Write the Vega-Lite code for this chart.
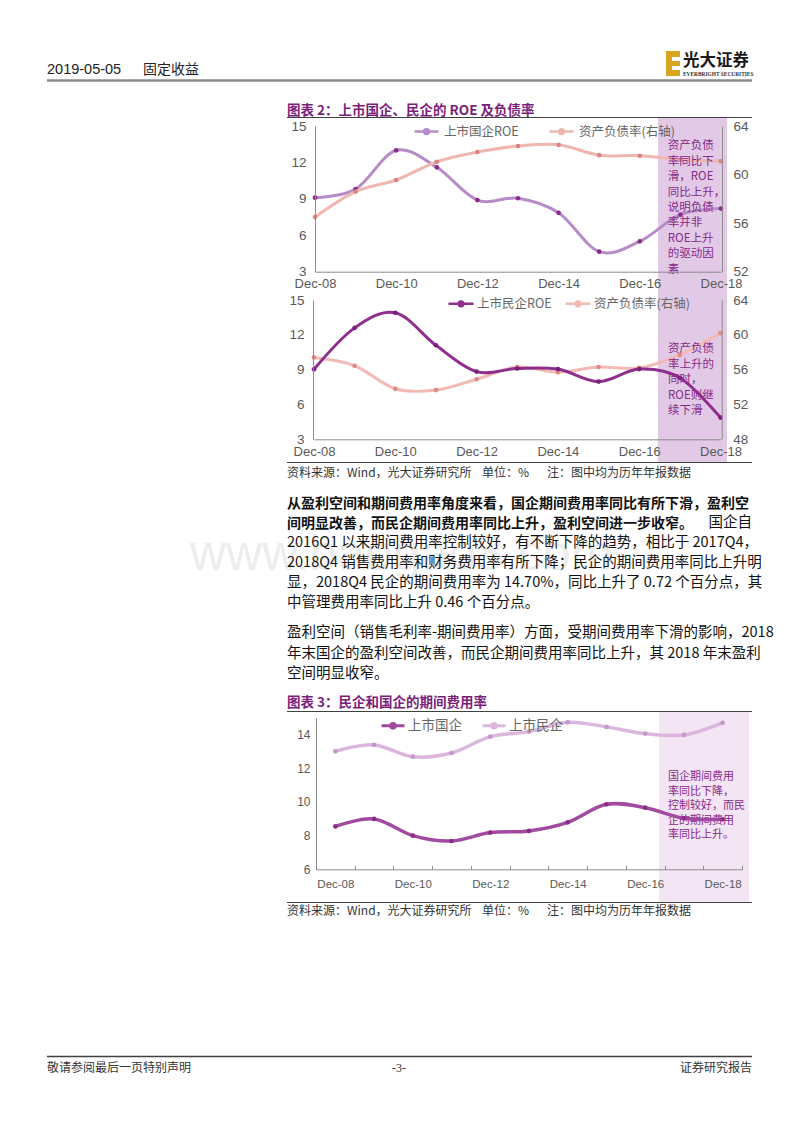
{
"$schema": "https://vega.github.io/schema/vega-lite/v6.json",
"padding": 0,
"background": "#ffffff",
"spacing": 0,
"bounds": "flush",
"resolve": {"scale": {"color": "independent", "stroke": "independent", "fill": "independent"}, "legend": {"color": "independent", "stroke": "independent", "fill": "independent"}},
"config": {
  "view": {"stroke": null},
  "font": "Noto Sans CJK SC",
  "axis": {"grid": false, "domainColor": "#8c8c8c", "labelColor": "#595959", "labelFont": "Liberation Sans", "ticks": false},
  "legend": {"padding": 0}
},
"datasets": {
  "c2a": [
    {"year": 2008, "series": "上市国企ROE", "value": 9.1},
    {"year": 2009, "series": "上市国企ROE", "value": 9.8},
    {"year": 2010, "series": "上市国企ROE", "value": 13.0},
    {"year": 2011, "series": "上市国企ROE", "value": 11.6},
    {"year": 2012, "series": "上市国企ROE", "value": 8.9},
    {"year": 2013, "series": "上市国企ROE", "value": 9.05},
    {"year": 2014, "series": "上市国企ROE", "value": 7.85},
    {"year": 2015, "series": "上市国企ROE", "value": 4.65},
    {"year": 2016, "series": "上市国企ROE", "value": 5.5},
    {"year": 2017, "series": "上市国企ROE", "value": 7.7},
    {"year": 2018, "series": "上市国企ROE", "value": 8.2},
    {"year": 2008, "series": "资产负债率(右轴)", "value": 56.5},
    {"year": 2009, "series": "资产负债率(右轴)", "value": 58.6},
    {"year": 2010, "series": "资产负债率(右轴)", "value": 59.55},
    {"year": 2011, "series": "资产负债率(右轴)", "value": 61.05},
    {"year": 2012, "series": "资产负债率(右轴)", "value": 61.85},
    {"year": 2013, "series": "资产负债率(右轴)", "value": 62.35},
    {"year": 2014, "series": "资产负债率(右轴)", "value": 62.45},
    {"year": 2015, "series": "资产负债率(右轴)", "value": 61.6},
    {"year": 2016, "series": "资产负债率(右轴)", "value": 61.55},
    {"year": 2017, "series": "资产负债率(右轴)", "value": 61.25},
    {"year": 2018, "series": "资产负债率(右轴)", "value": 61.1}
  ],
  "c2b": [
    {"year": 2008, "series": "上市民企ROE", "value": 9.03},
    {"year": 2009, "series": "上市民企ROE", "value": 12.6},
    {"year": 2010, "series": "上市民企ROE", "value": 13.9},
    {"year": 2011, "series": "上市民企ROE", "value": 11.1},
    {"year": 2012, "series": "上市民企ROE", "value": 8.83},
    {"year": 2013, "series": "上市民企ROE", "value": 9.1},
    {"year": 2014, "series": "上市民企ROE", "value": 9.05},
    {"year": 2015, "series": "上市民企ROE", "value": 7.97},
    {"year": 2016, "series": "上市民企ROE", "value": 9.05},
    {"year": 2017, "series": "上市民企ROE", "value": 8.3},
    {"year": 2018, "series": "上市民企ROE", "value": 4.87},
    {"year": 2008, "series": "资产负债率(右轴)", "value": 57.4},
    {"year": 2009, "series": "资产负债率(右轴)", "value": 56.45},
    {"year": 2010, "series": "资产负债率(右轴)", "value": 53.8},
    {"year": 2011, "series": "资产负债率(右轴)", "value": 53.65},
    {"year": 2012, "series": "资产负债率(右轴)", "value": 54.9},
    {"year": 2013, "series": "资产负债率(右轴)", "value": 56.3},
    {"year": 2014, "series": "资产负债率(右轴)", "value": 55.7},
    {"year": 2015, "series": "资产负债率(右轴)", "value": 56.3},
    {"year": 2016, "series": "资产负债率(右轴)", "value": 56.2},
    {"year": 2017, "series": "资产负债率(右轴)", "value": 57.7},
    {"year": 2018, "series": "资产负债率(右轴)", "value": 60.2}
  ],
  "c3": [
    {"year": 2008, "series": "上市国企", "value": 8.55},
    {"year": 2009, "series": "上市国企", "value": 8.99},
    {"year": 2010, "series": "上市国企", "value": 8.0},
    {"year": 2011, "series": "上市国企", "value": 7.68},
    {"year": 2012, "series": "上市国企", "value": 8.18},
    {"year": 2013, "series": "上市国企", "value": 8.28},
    {"year": 2014, "series": "上市国企", "value": 8.79},
    {"year": 2015, "series": "上市国企", "value": 9.86},
    {"year": 2016, "series": "上市国企", "value": 9.66},
    {"year": 2017, "series": "上市国企", "value": 9.03},
    {"year": 2018, "series": "上市国企", "value": 8.97},
    {"year": 2008, "series": "上市民企", "value": 13.01},
    {"year": 2009, "series": "上市民企", "value": 13.39},
    {"year": 2010, "series": "上市民企", "value": 12.69},
    {"year": 2011, "series": "上市民企", "value": 12.91},
    {"year": 2012, "series": "上市民企", "value": 13.88},
    {"year": 2013, "series": "上市民企", "value": 14.18},
    {"year": 2014, "series": "上市民企", "value": 14.73},
    {"year": 2015, "series": "上市民企", "value": 14.46},
    {"year": 2016, "series": "上市民企", "value": 14.06},
    {"year": 2017, "series": "上市民企", "value": 13.98},
    {"year": 2018, "series": "上市民企", "value": 14.7}
  ]
},
"vconcat": [
  {
    "width": 800, "height": 118,
    "data": {"values": [{}]},
    "layer": [
      {"mark": {"type": "text", "text": "2019-05-05", "font": "Liberation Sans", "fontSize": 14.5, "align": "left", "baseline": "middle", "color": "#222222"}, "encoding": {"x": {"value": 47}, "y": {"value": 70}}},
      {"mark": {"type": "text", "text": "固定收益", "fontSize": 14, "align": "left", "baseline": "middle", "color": "#222222"}, "encoding": {"x": {"value": 143}, "y": {"value": 70}}},
      {"mark": {"type": "rule", "stroke": "#8c8c8c", "strokeWidth": 2.5}, "encoding": {"x": {"value": 47}, "x2": {"value": 752}, "y": {"value": 80.5}}},
      {"mark": {"type": "rect", "fill": "#d9a520"}, "encoding": {"x": {"value": 666}, "x2": {"value": 680}, "y": {"value": 51}, "y2": {"value": 76}}},
      {"mark": {"type": "rect", "fill": "#ffffff"}, "encoding": {"x": {"value": 672}, "x2": {"value": 681}, "y": {"value": 57}, "y2": {"value": 61}}},
      {"mark": {"type": "rect", "fill": "#ffffff"}, "encoding": {"x": {"value": 672}, "x2": {"value": 681}, "y": {"value": 66}, "y2": {"value": 70}}},
      {"mark": {"type": "text", "text": "光大证券", "fontSize": 16.5, "fontWeight": "bold", "align": "left", "baseline": "middle", "color": "#1a1a1a"}, "encoding": {"x": {"value": 683}, "y": {"value": 61}}},
      {"mark": {"type": "text", "text": "EVERBRIGHT SECURITIES", "font": "Liberation Serif", "fontSize": 5.4, "fontWeight": "bold", "align": "left", "baseline": "middle", "color": "#333333"}, "encoding": {"x": {"value": 683}, "y": {"value": 73.5}}},
      {"mark": {"type": "text", "text": "图表 2：上市国企、民企的 ROE 及负债率", "fontSize": 13.5, "fontWeight": "bold", "align": "left", "baseline": "middle", "color": "#7b1e7b"}, "encoding": {"x": {"value": 287}, "y": {"value": 111}}},
      {"mark": {"type": "rule", "stroke": "#404040", "strokeWidth": 1}, "encoding": {"x": {"value": 287}, "x2": {"value": 752}, "y": {"value": 117.5}}}
    ]
  },
  {
    "width": 800, "height": 174,
    "layer": [
      {"data": {"values": [{"from": 2016.45, "to": 2018.15}]},
       "mark": {"type": "rect", "color": "#e2c9e6"},
       "encoding": {
         "x": {"field": "from", "type": "quantitative", "scale": {"domain": [2008, 2018], "range": [315, 721], "nice": false, "zero": false},
               "axis": {"orient": "bottom", "offset": -20.3, "values": [2008, 2010, 2012, 2014, 2016, 2018], "format": "d", "labelExpr": "'Dec-' + slice(datum.label, 2)", "title": null, "labelFlush": false, "labelOverlap": false, "labelBound": false, "labelPadding": 6, "labelFontSize": 13, "zindex": 1}},
         "x2": {"field": "to"}}},
      {"data": {"name": "c2a"}, "transform": [{"filter": "datum.series == '上市国企ROE'"}],
       "encoding": {
         "x": {"field": "year", "type": "quantitative"},
         "y": {"field": "value", "type": "quantitative", "scale": {"domain": [3, 15], "range": [153.7, 8], "nice": false, "zero": false},
               "axis": {"orient": "left", "offset": -315, "values": [3, 6, 9, 12, 15], "title": null, "labelPadding": 9, "labelFontSize": 13.5, "zindex": 1}}},
       "layer": [
         {"mark": {"type": "line", "interpolate": "cardinal", "strokeWidth": 3},
          "encoding": {"stroke": {"field": "series", "type": "nominal",
            "scale": {"domain": ["上市国企ROE", "资产负债率(右轴)"], "range": ["#b78bc8", "#f0b6b0"]},
            "legend": {"orient": "none", "legendX": 413, "legendY": 0, "direction": "horizontal", "title": null,
              "symbolType": "M-1,0L1,0M-0.2,0A0.2,0.2,0,1,1,0.2,0A0.2,0.2,0,1,1,-0.2,0Z", "symbolSize": 576, "symbolStrokeWidth": 2.5,
              "labelFont": "Noto Sans CJK SC", "labelFontSize": 12.5, "labelColor": "#666666",
              "labelOffset": 4, "columnPadding": 25, "labelLimit": 300}}}},
         {"mark": {"type": "circle", "size": 22, "opacity": 1},
          "encoding": {"fill": {"field": "series", "type": "nominal",
            "scale": {"domain": ["上市国企ROE", "资产负债率(右轴)"], "range": ["#8a2a8a", "#d98585"]},
            "legend": {"orient": "none", "legendX": 413, "legendY": 0, "direction": "horizontal", "title": null,
              "symbolType": "M-1,0L1,0M-0.2,0A0.2,0.2,0,1,1,0.2,0A0.2,0.2,0,1,1,-0.2,0Z", "symbolSize": 576, "symbolStrokeWidth": 2.5,
              "labelFont": "Noto Sans CJK SC", "labelFontSize": 12.5, "labelColor": "#666666",
              "labelOffset": 4, "columnPadding": 25, "labelLimit": 300}}}}
       ]},
      {"data": {"name": "c2a"}, "transform": [{"filter": "datum.series == '资产负债率(右轴)'"}],
       "encoding": {
         "x": {"field": "year", "type": "quantitative"},
         "y": {"field": "value", "type": "quantitative", "scale": {"domain": [52, 64], "range": [153.7, 8], "nice": false, "zero": false},
               "axis": {"orient": "right", "offset": -78, "values": [52, 56, 60, 64], "title": null, "labelPadding": 11, "labelFontSize": 13.5, "zindex": 1}}},
       "layer": [
         {"mark": {"type": "line", "interpolate": "cardinal", "strokeWidth": 3}, "encoding": {"stroke": {"field": "series", "type": "nominal"}}},
         {"mark": {"type": "circle", "size": 22, "opacity": 1}, "encoding": {"fill": {"field": "series", "type": "nominal"}}}
       ]},
      {"data": {"values": [{}]},
       "mark": {"type": "text", "text": "资产负债\n率同比下\n滑，ROE\n同比上升，\n说明负债\n率并非\nROE上升\n的驱动因\n素", "lineBreak": "\n", "align": "left", "baseline": "top", "fontSize": 11.5, "lineHeight": 15.4, "color": "#86298a"},
       "encoding": {"x": {"datum": 2016.69}, "y": {"datum": 13.82, "scale": {"domain": [3, 15], "range": [153.7, 8], "nice": false, "zero": false}, "axis": null}}}
    ],
    "resolve": {"scale": {"y": "independent"}, "axis": {"y": "independent"}}
  },
  {
    "width": 800, "height": 170,
    "layer": [
      {"data": {"values": [{"from": 2016.46, "to": 2018.16}]},
       "mark": {"type": "rect", "color": "#e2c9e6"},
       "encoding": {
         "x": {"field": "from", "type": "quantitative", "scale": {"domain": [2008, 2018], "range": [314, 720.5], "nice": false, "zero": false},
               "axis": {"orient": "bottom", "offset": -22.7, "values": [2008, 2010, 2012, 2014, 2016, 2018], "format": "d", "labelExpr": "'Dec-' + slice(datum.label, 2)", "title": null, "labelFlush": false, "labelOverlap": false, "labelBound": false, "labelPadding": 6, "labelFontSize": 13, "zindex": 1}},
         "x2": {"field": "to"}}},
      {"data": {"name": "c2b"}, "transform": [{"filter": "datum.series == '资产负债率(右轴)'"}],
       "encoding": {
         "x": {"field": "year", "type": "quantitative"},
         "y": {"field": "value", "type": "quantitative", "scale": {"domain": [48, 64], "range": [147.3, 8], "nice": false, "zero": false},
               "axis": {"orient": "right", "offset": -78.3, "values": [48, 52, 56, 60, 64], "title": null, "labelPadding": 11, "labelFontSize": 13.5, "zindex": 1}}},
       "layer": [
         {"mark": {"type": "line", "interpolate": "cardinal", "strokeWidth": 3}, "encoding": {"stroke": {"field": "series", "type": "nominal"}}},
         {"mark": {"type": "circle", "size": 22, "opacity": 1}, "encoding": {"fill": {"field": "series", "type": "nominal"}}}
       ]},
      {"data": {"name": "c2b"}, "transform": [{"filter": "datum.series == '上市民企ROE'"}],
       "encoding": {
         "x": {"field": "year", "type": "quantitative"},
         "y": {"field": "value", "type": "quantitative", "scale": {"domain": [3, 15], "range": [147.3, 8], "nice": false, "zero": false},
               "axis": {"orient": "left", "offset": -313, "values": [3, 6, 9, 12, 15], "title": null, "labelPadding": 9, "labelFontSize": 13.5, "zindex": 1}}},
       "layer": [
         {"mark": {"type": "line", "interpolate": "cardinal", "strokeWidth": 3},
          "encoding": {"stroke": {"field": "series", "type": "nominal",
            "scale": {"domain": ["上市民企ROE", "资产负债率(右轴)"], "range": ["#8e2f8e", "#f2bab4"]},
            "legend": {"orient": "none", "legendX": 447, "legendY": -2.5, "direction": "horizontal", "title": null,
              "symbolType": "M-1,0L1,0M-0.19,0A0.19,0.19,0,1,1,0.19,0A0.19,0.19,0,1,1,-0.19,0Z", "symbolSize": 625, "symbolStrokeWidth": 2.5,
              "labelFont": "Noto Sans CJK SC", "labelFontSize": 12.5, "labelColor": "#666666",
              "labelOffset": 2, "columnPadding": 8, "labelLimit": 300}}}},
         {"mark": {"type": "circle", "size": 22, "opacity": 1},
          "encoding": {"fill": {"field": "series", "type": "nominal",
            "scale": {"domain": ["上市民企ROE", "资产负债率(右轴)"], "range": ["#7a1f7a", "#e08a8a"]},
            "legend": {"orient": "none", "legendX": 447, "legendY": -2.5, "direction": "horizontal", "title": null,
              "symbolType": "M-1,0L1,0M-0.19,0A0.19,0.19,0,1,1,0.19,0A0.19,0.19,0,1,1,-0.19,0Z", "symbolSize": 625, "symbolStrokeWidth": 2.5,
              "labelFont": "Noto Sans CJK SC", "labelFontSize": 12.5, "labelColor": "#666666",
              "labelOffset": 2, "columnPadding": 8, "labelLimit": 300}}}}
       ]},
      {"data": {"values": [{}]},
       "mark": {"type": "text", "text": "资产负债\n率上升的\n同时，\nROE则继\n续下滑", "lineBreak": "\n", "align": "left", "baseline": "top", "fontSize": 11.5, "lineHeight": 15.5, "color": "#86298a"},
       "encoding": {"x": {"datum": 2016.71}, "y": {"datum": 11.27, "scale": {"domain": [3, 15], "range": [147.3, 8], "nice": false, "zero": false}, "axis": null}}}
    ],
    "resolve": {"scale": {"y": "independent"}, "axis": {"y": "independent"}}
  },
  {
    "width": 800, "height": 250,
    "data": {"values": [{}]},
    "layer": [
      {"mark": {"type": "text", "text": "www.baogao8.com", "font": "Liberation Sans", "fontSize": 50, "align": "left", "baseline": "middle", "color": "#ededed"}, "encoding": {"x": {"value": 190}, "y": {"value": 93}}},
      {"mark": {"type": "rule", "stroke": "#404040", "strokeWidth": 1}, "encoding": {"x": {"value": 287}, "x2": {"value": 752}, "y": {"value": 0.5}}},
      {"mark": {"type": "text", "text": "资料来源：Wind，光大证券研究所", "fontSize": 12, "align": "left", "baseline": "middle", "color": "#333333"}, "encoding": {"x": {"value": 287}, "y": {"value": 11}}},
      {"mark": {"type": "text", "text": "单位：%", "fontSize": 12, "align": "left", "baseline": "middle", "color": "#333333"}, "encoding": {"x": {"value": 482}, "y": {"value": 11}}},
      {"mark": {"type": "text", "text": "注：图中均为历年年报数据", "fontSize": 12, "align": "left", "baseline": "middle", "color": "#333333"}, "encoding": {"x": {"value": 547}, "y": {"value": 11}}},
      {"mark": {"type": "text", "text": "从盈利空间和期间费用率角度来看，国企期间费用率同比有所下滑，盈利空\n间明显改善，而民企期间费用率同比上升，盈利空间进一步收窄。", "lineBreak": "\n", "fontSize": 14, "fontWeight": "bold", "lineHeight": 19.5, "align": "left", "baseline": "top", "color": "#111111"}, "encoding": {"x": {"value": 287}, "y": {"value": 35}}},
      {"mark": {"type": "text", "text": "国企自", "fontSize": 14.5, "align": "right", "baseline": "top", "color": "#111111"}, "encoding": {"x": {"value": 752}, "y": {"value": 54.3}}},
      {"mark": {"type": "text", "text": "2016Q1 以来期间费用率控制较好，有不断下降的趋势，相比于 2017Q4，\n2018Q4 销售费用率和财务费用率有所下降；民企的期间费用率同比上升明\n显，2018Q4 民企的期间费用率为 14.70%，同比上升了 0.72 个百分点，其\n中管理费用率同比上升 0.46 个百分点。", "lineBreak": "\n", "fontSize": 14.5, "lineHeight": 20, "align": "left", "baseline": "top", "color": "#111111"}, "encoding": {"x": {"value": 287}, "y": {"value": 73.8}}},
      {"mark": {"type": "text", "text": "盈利空间（销售毛利率-期间费用率）方面，受期间费用率下滑的影响，2018\n年末国企的盈利空间改善，而民企期间费用率同比上升，其 2018 年末盈利\n空间明显收窄。", "lineBreak": "\n", "fontSize": 14.5, "lineHeight": 20.5, "align": "left", "baseline": "top", "color": "#111111"}, "encoding": {"x": {"value": 287}, "y": {"value": 164}}},
      {"mark": {"type": "text", "text": "图表 3：民企和国企的期间费用率", "fontSize": 13.5, "fontWeight": "bold", "align": "left", "baseline": "middle", "color": "#7b1e7b"}, "encoding": {"x": {"value": 287}, "y": {"value": 240.7}}},
      {"mark": {"type": "rule", "stroke": "#404040", "strokeWidth": 1}, "encoding": {"x": {"value": 287}, "x2": {"value": 752}, "y": {"value": 249.5}}}
    ]
  },
  {
    "width": 800, "height": 190,
    "layer": [
      {"data": {"values": [{"from": 2016.36, "to": 2018.68}]},
       "layer": [
         {"mark": {"type": "rect", "color": "#f3e5f4"},
          "encoding": {"x": {"field": "from", "type": "quantitative", "scale": {"domain": [2007.5, 2018.5], "range": [316, 742], "nice": false, "zero": false}, "axis": null}, "x2": {"field": "to"}}},
         {"mark": {"type": "text", "text": "国企期间费用\n率同比下降，\n控制较好，而民\n企的期间费用\n率同比上升。", "lineBreak": "\n", "align": "left", "baseline": "top", "fontSize": 11, "lineHeight": 14.5, "color": "#86298a"},
          "encoding": {"x": {"datum": 2016.59, "axis": null}, "y": {"datum": 11.81, "scale": {"domain": [6, 15], "range": [157.3, 5.8], "nice": false, "zero": false}, "axis": null}}}
       ]},
      {"data": {"name": "c3"},
       "encoding": {
         "x": {"field": "year", "type": "ordinal", "scale": {"type": "band", "range": [316, 742], "paddingInner": 0, "paddingOuter": 0},
               "axis": {"orient": "bottom", "offset": -32.7, "title": null, "labelAngle": 0, "labelExpr": "datum.value % 2 == 0 ? 'Dec-' + slice(toString(datum.value), 2) : ''", "tickBand": "extent", "ticks": true, "tickSize": -4, "tickColor": "#8c8c8c", "labelPadding": 13, "labelFontSize": 11.5, "labelOverlap": false, "zindex": 1}},
         "y": {"field": "value", "type": "quantitative", "scale": {"domain": [6, 15], "range": [157.3, 5.8], "nice": false, "zero": false},
               "axis": {"orient": "left", "offset": -316, "values": [6, 8, 10, 12, 14], "title": null, "labelPadding": 6, "labelFontSize": 12, "zindex": 1}}},
       "layer": [
         {"transform": [{"filter": "datum.series == '上市民企'"}], "mark": {"type": "line", "interpolate": "cardinal", "strokeWidth": 3.5},
          "encoding": {"stroke": {"field": "series", "type": "nominal",
            "scale": {"domain": ["上市国企", "上市民企"], "range": ["#a14a9f", "#dbb7de"]},
            "legend": {"orient": "none", "legendX": 380, "legendY": 0.5, "direction": "horizontal", "title": null,
              "symbolType": "M-1,0L1,0M-0.2,0A0.2,0.2,0,1,1,0.2,0A0.2,0.2,0,1,1,-0.2,0Z", "symbolSize": 529, "symbolStrokeWidth": 3,
              "labelFont": "Noto Sans CJK SC", "labelFontSize": 13.5, "labelColor": "#666666",
              "labelOffset": 2, "columnPadding": 14, "labelLimit": 300}}}},
         {"transform": [{"filter": "datum.series == '上市民企'"}], "mark": {"type": "circle", "size": 22, "opacity": 1},
          "encoding": {"fill": {"field": "series", "type": "nominal",
            "scale": {"domain": ["上市国企", "上市民企"], "range": ["#8c2c8a", "#c597ca"]},
            "legend": {"orient": "none", "legendX": 380, "legendY": 0.5, "direction": "horizontal", "title": null,
              "symbolType": "M-1,0L1,0M-0.2,0A0.2,0.2,0,1,1,0.2,0A0.2,0.2,0,1,1,-0.2,0Z", "symbolSize": 529, "symbolStrokeWidth": 3,
              "labelFont": "Noto Sans CJK SC", "labelFontSize": 13.5, "labelColor": "#666666",
              "labelOffset": 2, "columnPadding": 14, "labelLimit": 300}}}},
         {"transform": [{"filter": "datum.series == '上市国企'"}], "mark": {"type": "line", "interpolate": "cardinal", "strokeWidth": 3.5},
          "encoding": {"stroke": {"field": "series", "type": "nominal"}}},
         {"transform": [{"filter": "datum.series == '上市国企'"}], "mark": {"type": "circle", "size": 22, "opacity": 1},
          "encoding": {"fill": {"field": "series", "type": "nominal"}}}
       ]}
    ],
    "resolve": {"scale": {"x": "independent", "y": "independent"}, "axis": {"x": "independent", "y": "independent"}}
  },
  {
    "width": 800, "height": 230,
    "data": {"values": [{}]},
    "layer": [
      {"mark": {"type": "rule", "stroke": "#404040", "strokeWidth": 1}, "encoding": {"x": {"value": 287}, "x2": {"value": 752}, "y": {"value": 0.5}}},
      {"mark": {"type": "text", "text": "资料来源：Wind，光大证券研究所", "fontSize": 12, "align": "left", "baseline": "middle", "color": "#333333"}, "encoding": {"x": {"value": 287}, "y": {"value": 9}}},
      {"mark": {"type": "text", "text": "单位：%", "fontSize": 12, "align": "left", "baseline": "middle", "color": "#333333"}, "encoding": {"x": {"value": 482}, "y": {"value": 9}}},
      {"mark": {"type": "text", "text": "注：图中均为历年年报数据", "fontSize": 12, "align": "left", "baseline": "middle", "color": "#333333"}, "encoding": {"x": {"value": 547}, "y": {"value": 9}}},
      {"mark": {"type": "rule", "stroke": "#404040", "strokeWidth": 1.5}, "encoding": {"x": {"value": 47}, "x2": {"value": 752}, "y": {"value": 154.5}}},
      {"mark": {"type": "text", "text": "敬请参阅最后一页特别声明", "fontSize": 12, "align": "left", "baseline": "middle", "color": "#333333"}, "encoding": {"x": {"value": 47}, "y": {"value": 165.5}}},
      {"mark": {"type": "text", "text": "-3-", "font": "Liberation Serif", "fontSize": 12, "align": "center", "baseline": "middle", "color": "#333333"}, "encoding": {"x": {"value": 399}, "y": {"value": 165.5}}},
      {"mark": {"type": "text", "text": "证券研究报告", "fontSize": 12, "align": "right", "baseline": "middle", "color": "#333333"}, "encoding": {"x": {"value": 752}, "y": {"value": 165.5}}}
    ]
  }
]
}
